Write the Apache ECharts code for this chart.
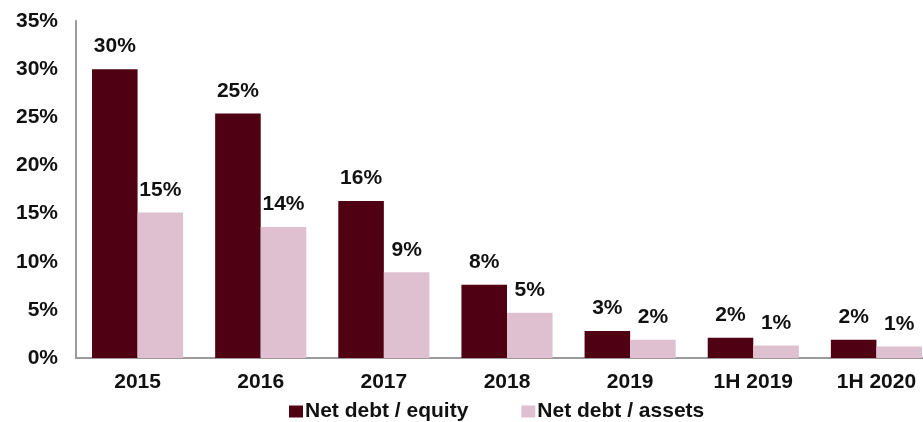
<!DOCTYPE html>
<html lang="en">
  <head>
    <meta charset="UTF-8" />
    <title>Net debt ratios</title>
    <style>
      html,
      body {
        margin: 0;
        padding: 0;
        background: #fff;
        overflow: hidden;
      }
      /* the last category runs past the right edge in the original, so the
         chart is a bit wider than the window and gets clipped */
      #main {
        width: 940px;
        height: 422px;
      }
    </style>
  </head>
  <body>
    <div id="main"></div>
    <script src="https://cdn.jsdelivr.net/npm/echarts@6/dist/echarts.min.js"></script>
    <script>
      var categories = ["2015", "2016", "2017", "2018", "2019", "1H 2019", "1H 2020"];
      var equityName = "Net debt / equity";
      var assetsName = "Net debt / assets";
      // values in %
      var equityValues = [30.0, 25.4, 16.3, 7.6, 2.8, 2.1, 1.9];
      var assetsValues = [15.1, 13.6, 8.9, 4.7, 1.9, 1.3, 1.2];

      var FONT = "Liberation Sans, Arial, sans-serif";
      var chart = echarts.init(document.getElementById("main"));

      var labelStyle = {
        show: true,
        position: "top",
        distance: 12,
        fontFamily: FONT,
        fontWeight: "bold",
        fontSize: 21,
        color: "#111",
        formatter: function(p) {
          return Math.round(p.value) + "%";
        }
      };

      chart.setOption({
        animation: false,
        textStyle: { fontFamily: FONT },
        grid: {
          left: 76,
          right: 2,
          top: 21,
          bottom: 64
        },
        legend: {
          left: 284,
          top: 396,
          itemWidth: 14,
          itemHeight: 12,
          itemGap: 53,
          icon: "rect",
          textStyle: {
            fontFamily: FONT,
            fontWeight: "bold",
            fontSize: 21,
            color: "#111",
            padding: [0, 0, 0, -3]
          },
          data: [equityName, assetsName]
        },
        xAxis: {
          type: "category",
          data: categories,
          axisLine: { lineStyle: { color: "#9a9a9a", width: 2 } },
          axisTick: { show: false },
          axisLabel: {
            margin: 14,
            fontFamily: FONT,
            fontWeight: "bold",
            fontSize: 21,
            color: "#111"
          }
        },
        yAxis: {
          type: "value",
          min: 0,
          max: 35,
          interval: 5,
          splitLine: { show: false },
          axisLine: { show: true, lineStyle: { color: "#9a9a9a", width: 2 } },
          axisTick: { show: false },
          axisLabel: {
            margin: 18,
            formatter: "{value}%",
            fontFamily: FONT,
            fontWeight: "bold",
            fontSize: 21,
            color: "#111"
          }
        },
        series: [
          {
            name: equityName,
            type: "bar",
            data: equityValues,
            barGap: 0,
            barCategoryGap: "26%",
            itemStyle: { color: "#4f0012" },
            label: labelStyle
          },
          {
            name: assetsName,
            type: "bar",
            data: assetsValues,
            itemStyle: { color: "#dfc0d0" },
            label: labelStyle
          }
        ]
      });
    </script>
  </body>
</html>
